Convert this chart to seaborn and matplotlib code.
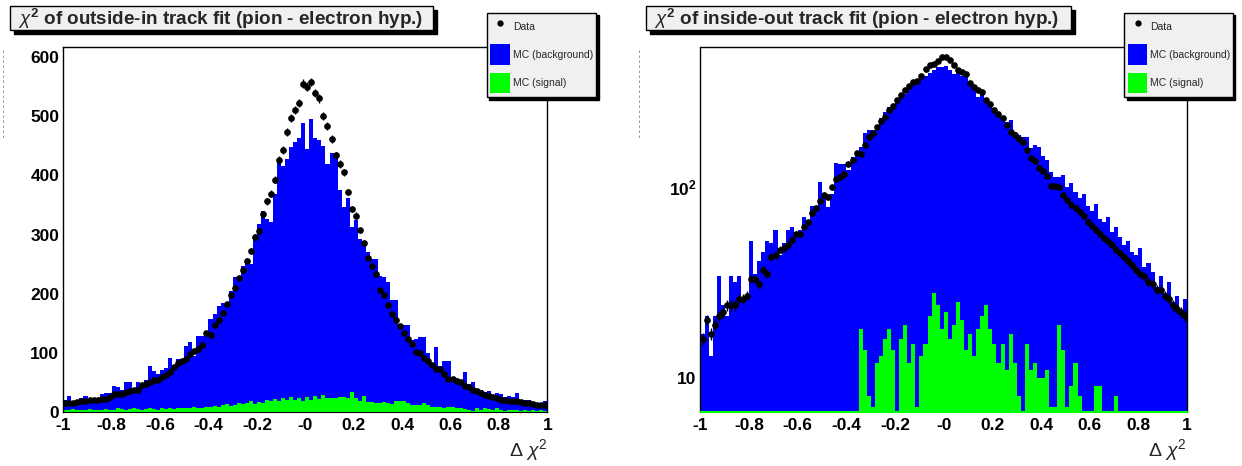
import numpy as np
import pandas as pd
import matplotlib
matplotlib.use('Agg')
import matplotlib.pyplot as plt
import seaborn as sns
from matplotlib.patches import Rectangle, Patch
from matplotlib.lines import Line2D
from matplotlib.ticker import MultipleLocator, FixedLocator, NullFormatter

# 120 bins between -1 and 1
n_bins = 120
edges = np.linspace(-1, 1, n_bins + 1)
centers = 0.5 * (edges[:-1] + edges[1:])

# outside-in fit (linear y)
oi_data = [15, 16, 16, 17, 19, 19, 20, 21, 21, 22, 22, 25, 30, 30, 30, 34, 36, 37, 38, 46,
           48, 50, 54, 54, 60, 63, 68, 76, 83, 86, 89, 98, 103, 106, 113, 134, 131, 147, 156,
           168, 182, 198, 210, 226, 240, 256,
           273, 295, 306, 334, 356, 369, 393, 426, 443, 473, 497, 510, 523, 555, 550, 558, 539,
           530, 500, 483, 461, 434, 419, 405,
           372, 343, 332, 308, 285, 260, 247, 233, 206, 197, 181, 165, 156, 145, 134, 124, 115,
           101, 100, 92, 86, 80, 72, 72, 64, 56, 56, 52, 50, 44, 42, 38, 35, 32, 28, 27, 25,
           23, 21, 21, 19, 18, 19, 17, 16, 15, 14, 12, 12, 11]
oi_bkg = [21, 27, 16, 20, 23, 27, 22, 24, 24, 30, 32, 32, 44, 43, 37, 50, 50, 40, 51, 47,
          54, 78, 69, 65, 71, 74, 91, 78, 89, 90, 112, 119, 94, 128, 128, 128, 157, 166, 179,
          185, 178, 205, 228, 222, 246, 252, 250,
          294, 318, 340, 326, 322, 368, 426, 416, 428, 448, 456, 464, 488, 445, 495, 463, 459,
          450, 419, 437, 436, 375, 346, 361, 313,
          325, 292, 282, 270, 259, 259, 230, 228, 220, 189, 189, 145, 147, 147, 121, 123, 126,
          126, 99, 81, 110, 77, 87, 87, 60, 51, 50, 68, 48, 50, 38, 38, 33, 35, 27, 32, 30,
          26, 27, 25, 32, 21, 20, 20, 16, 12, 15, 19]
oi_sig = [4, 3, 5, 4, 3, 4, 5, 3, 4, 4, 5, 4, 4, 6, 5, 4, 5, 6, 5, 4,
          5, 6, 5, 4, 6, 5, 7, 5, 6, 6, 7, 6, 8, 7, 6, 9, 8, 10, 9, 11,
          14, 10, 12, 16, 13, 15, 18, 14, 17, 16, 20, 18, 22, 19, 24, 21, 26, 20, 23, 19,
          25, 21, 27, 22, 28, 24,
          23, 23, 25, 25, 23, 33, 23, 19, 27, 17, 17, 16, 16, 17, 15, 14, 19, 18, 19, 15,
          11, 11, 12, 15, 12, 9, 8, 9, 6, 9, 8, 6, 7, 5, 3, 2, 6, 3, 6, 5,
          3, 6, 3, 2, 4, 3, 4, 2, 3, 2, 3, 1, 3, 2]

# inside-out fit (log y)
io_data = [16, 20, 17, 19, 21, 22, 24, 24, 24, 26, 26, 27, 33, 33, 31, 37, 35, 43, 44, 47,
           48, 50, 53, 57, 57, 62, 66, 73, 78,
           85, 91, 89, 100, 110, 113, 117, 133, 139, 152, 149, 166, 183, 193, 208, 223, 234,
           256, 269, 287, 305, 324, 340, 358, 363, 384, 420, 440, 444, 462, 485, 485, 466, 439,
           413, 402, 393, 354, 337, 324, 317, 287, 273, 256, 242, 230, 212, 195, 188, 180, 173,
           157, 143, 137, 127, 122, 115, 101, 101, 100, 91, 86, 81,
           78, 74, 71, 66, 63, 60, 57, 54, 52, 50, 47, 45, 43, 41, 39, 37, 35, 34, 32, 31, 29,
           29, 27, 26, 24, 23, 22, 21]
io_bkg = [17, 21, 13, 21, 34, 24, 21, 34, 32, 34, 25, 27, 52, 35, 41, 46, 52, 51, 60, 44,
          51, 60, 62, 58, 60, 70, 66, 80, 78,
          107, 93, 79, 92, 134, 133, 132, 123, 144, 150, 163, 193, 201, 200, 212, 230, 249,
          265, 270, 287, 301, 311, 331, 354, 369, 381, 384, 400, 413, 430, 430, 434, 413, 392,
          397, 384, 381, 358, 337, 297, 305, 287, 270, 259, 236, 235, 221, 225, 196, 188, 184,
          184, 160, 166, 163, 146, 139, 120, 113, 113, 116, 100, 105,
          95, 88, 92, 80, 75, 82, 68, 66, 70, 58, 62, 55, 50, 52, 46, 44, 48, 38, 40, 36, 30,
          34, 28, 32, 25, 27, 22, 26]
io_sig = [0] * 39 + [18, 14, 8, 7, 12, 13, 16, 18, 14, 0, 16, 19, 12, 15, 7, 13, 15, 21, 28, 24,
                     18, 22, 16, 19, 25, 20, 14, 17, 13, 18, 21, 24, 18, 15, 12, 15, 11, 17, 12, 8,
                     0, 15, 11, 12, 10, 10, 11, 7, 7, 19, 14, 7, 9, 12, 8, 0, 0, 0, 9, 9,
                     0, 0, 0, 8] + [0] * 17

xtick_pos = [-1, -0.8, -0.6, -0.4, -0.2, 0, 0.2, 0.4, 0.6, 0.8, 1]
xtick_labels = ['-1', '-0.8', '-0.6', '-0.4', '-0.2', '-0', '0.2', '0.4', '0.6', '0.8', '1']
titles = [r'$\chi^{\mathbf{2}}$ of outside-in track fit (pion - electron hyp.)',
          r'$\chi^{\mathbf{2}}$ of inside-out track fit (pion - electron hyp.)']
legend_labels = ['Data', 'MC (background)', 'MC (signal)']

sns.set_style('white')
plt.rcParams['font.family'] = ['Liberation Sans', 'DejaVu Sans']
plt.rcParams['mathtext.fontset'] = 'custom'
plt.rcParams['mathtext.rm'] = 'Liberation Sans'
plt.rcParams['mathtext.it'] = 'Liberation Sans:italic'
plt.rcParams['mathtext.bf'] = 'Liberation Sans:bold'

W, H = 1242, 466
fig = plt.figure(figsize=(W / 100, H / 100), dpi=100)


def fbox(x0, y0, x1, y1):
    # pixel box (top-left origin) -> figure fraction [left, bottom, width, height]
    return [x0 / W, 1 - y1 / H, (x1 - x0) / W, (y1 - y0) / H]


ax1 = fig.add_axes(fbox(63.3, 47, 547.3, 412))
ax2 = fig.add_axes(fbox(700.5, 47, 1187, 412))


def draw(ax, data, bkg, sig):
    df = pd.DataFrame({'x': centers, 'data': data, 'bkg': bkg, 'sig': sig})
    sns.histplot(data=df, x='x', weights='bkg', bins=n_bins, binrange=(-1, 1), element='step',
                 fill=True, color='#0000ff', alpha=1, linewidth=0, ax=ax)
    sns.histplot(data=df, x='x', weights='sig', bins=n_bins, binrange=(-1, 1), element='step',
                 fill=True, color='#00ff00', alpha=1, linewidth=0, ax=ax)
    # data are normalised, so the error bars are shorter than sqrt(N)
    ax.errorbar(df['x'], df['data'], yerr=0.3 * np.sqrt(df['data']), fmt='o', color='black',
                ms=3.8, elinewidth=1, capsize=0, zorder=5)


draw(ax1, oi_data, oi_bkg, oi_sig)
draw(ax2, io_data, io_bkg, io_sig)

ax1.set_ylim(0, 617)
ax1.yaxis.set_major_locator(MultipleLocator(100))
ax1.yaxis.set_minor_locator(MultipleLocator(20))

ax2.set_yscale('log')
ax2.set_ylim(6.6, 546)
ax2.yaxis.set_major_locator(FixedLocator([10, 100]))
ax2.set_yticklabels(['10', r'$\mathbf{10^{2}}$'])
ax2.yaxis.set_minor_locator(FixedLocator([7, 8, 9, 20, 30, 40, 50, 60, 70, 80, 90,
                                          200, 300, 400, 500]))
ax2.yaxis.set_minor_formatter(NullFormatter())
ax2.spines['bottom'].set_color('#00ff00')
ax2.spines['bottom'].set_linewidth(1.5)

for ax in (ax1, ax2):
    ax.set_xlim(-1, 1)
    ax.set_xticks(xtick_pos, xtick_labels)
    ax.xaxis.set_minor_locator(MultipleLocator(0.05))
    ax.tick_params(which='both', direction='in', top=False, right=False, colors='black')
    ax.tick_params(axis='x', which='major', length=7.2, width=0.8, labelsize=12.5, pad=4)
    ax.tick_params(axis='x', which='minor', length=3.6, width=0.8)
    ax.tick_params(axis='y', which='major', length=10, width=0.8, labelsize=12.5, pad=3)
    ax.tick_params(axis='y', which='minor', length=5, width=0.8)
    for lbl in ax.get_xticklabels() + ax.get_yticklabels():
        lbl.set_fontweight('bold')
    for name in ('top', 'left', 'right'):
        ax.spines[name].set_color('black')
        ax.spines[name].set_linewidth(1)
    ax.set_ylabel('')
    ax.set_xlabel(r'$\Delta\ \chi^{2}$', loc='right', fontsize=14, labelpad=3)
ax1.spines['bottom'].set_color('black')

# title boxes with ROOT-like drop shadow
for (x0, x1), txt in zip([(10, 433), (646, 1071)], titles):
    fig.add_artist(Rectangle(((x0 + 4) / W, 1 - 34 / H), (x1 - x0) / W, 24 / H,
                             transform=fig.transFigure, facecolor='black', edgecolor='black'))
    fig.add_artist(Rectangle((x0 / W, 1 - 30 / H), (x1 - x0) / W, 24 / H,
                             transform=fig.transFigure, facecolor='#f0f0f0',
                             edgecolor='black', linewidth=1))
    fig.text((x0 + 8) / W, 1 - 18.5 / H, txt, fontsize=13.6, fontweight='bold',
             va='center', ha='left')

# legends
for ax, (x0, x1) in zip((ax1, ax2), [(486.7, 596), (1124, 1232.7)]):
    handles = [Line2D([], [], ls='none', marker='o', color='black', ms=3.5),
               Patch(facecolor='#0000ff', edgecolor='none'),
               Patch(facecolor='#00ff00', edgecolor='none')]
    leg = ax.legend(handles, legend_labels, loc='upper left',
                    bbox_to_anchor=fbox(x0, 12.7, x1, 94), bbox_transform=fig.transFigure,
                    mode='expand', borderaxespad=0, fontsize=7.5, handlelength=1.9,
                    handleheight=2.7, labelspacing=0.7, borderpad=0.35, handletextpad=0.25,
                    frameon=True, fancybox=False, edgecolor='black', facecolor='#f0f0f0',
                    framealpha=1, shadow={'facecolor': 'black', 'edgecolor': 'black', 'alpha': 1})
    leg.get_frame().set_linewidth(1)

# faint dashed remnants at the left of each pad
for xp in (3, 639):
    fig.add_artist(Line2D([xp / W, xp / W], [1 - 50 / H, 1 - 140 / H], transform=fig.transFigure,
                          color='#888888', lw=0.6, ls=(0, (3, 3))))

fig.savefig('out.png', dpi=100, facecolor='white')
